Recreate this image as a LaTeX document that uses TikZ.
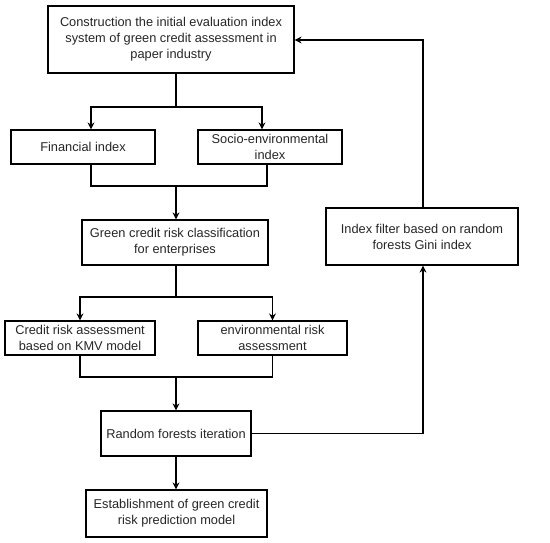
\documentclass[tikz,border=0pt]{standalone}
\usepackage{fontspec}
\setmainfont{Liberation Sans}
\usetikzlibrary{arrows.meta,calc}
\begin{document}
\begin{tikzpicture}[x=1pt,y=-1pt,
  box/.style={draw, line width=1.2pt, align=center, inner sep=2pt, font=\fontsize{12.8}{16}\selectfont, text=black!85},
  conn/.style={line width=1.2pt},
  arr/.style={conn, -{Stealth[length=7pt,width=7pt]}}]
\useasboundingbox (0,0) rectangle (550,543);
\node[box, minimum width=246pt, minimum height=67pt] (top) at (171,39.5) {Construction the initial evaluation index\\system of green credit assessment in\\paper industry};
\node[box, minimum width=144pt, minimum height=34pt] (fin) at (83,147) {Financial index};
\node[box, minimum width=144pt, minimum height=34pt] (soc) at (270,147) {Socio-environmental\\index};
\node[box, minimum width=186pt, minimum height=45pt] (green) at (175,242.5) {Green credit risk classification\\for enterprises};
\node[box, minimum width=192pt, minimum height=57pt] (filt) at (422,236.5) {Index filter based on random\\forests Gini index};
\node[box, minimum width=150pt, minimum height=34pt] (cred) at (80,338) {Credit risk assessment\\based on KMV model};
\node[box, minimum width=149pt, minimum height=34pt] (env) at (272.5,338) {environmental risk\\assessment};
\node[box, minimum width=150pt, minimum height=45pt] (rand) at (176,433.5) {Random forests iteration};
\node[box, minimum width=181pt, minimum height=47pt] (est) at (176.5,513.5) {Establishment of green credit\\risk prediction model};
\coordinate (sp) at (176,0);
\coordinate (j1) at (176,107);
\coordinate (j2) at (176,186);
\coordinate (j3) at (176,297);
\coordinate (j4) at (176,377);
\coordinate (rx) at (423,0);
% top -> fin, soc
\draw[conn] (top.south -| sp) -- (j1);
\draw[arr] (j1) -| ($(fin.north)+(8,0)$);
\draw[arr] (j1) -| ($(soc.north)+(-8,0)$);
% fin, soc -> green
\draw[conn] ($(fin.south)+(8,0)$) |- (j2);
\draw[conn] ($(soc.south)+(-3,0)$) |- (j2);
\draw[arr] (j2) -- (green.north -| sp);
% green -> cred, env
\draw[conn] (green.south -| sp) -- (j3);
\draw[arr] (j3) -| (cred.north);
\draw[arr] (j3) -| (env.north);
% cred, env -> rand
\draw[conn] (cred.south) |- (j4);
\draw[conn] (env.south) |- (j4);
\draw[arr] (j4) -- (rand.north);
% rand -> est
\draw[arr] (rand.south) -- (est.north -| rand.south);
% feedback loop
\draw[arr] (rand.east) -| (filt.south -| rx);
\draw[arr] (filt.north -| rx) |- ($(top.east)+(0,0.5)$);
\end{tikzpicture}
\end{document}
